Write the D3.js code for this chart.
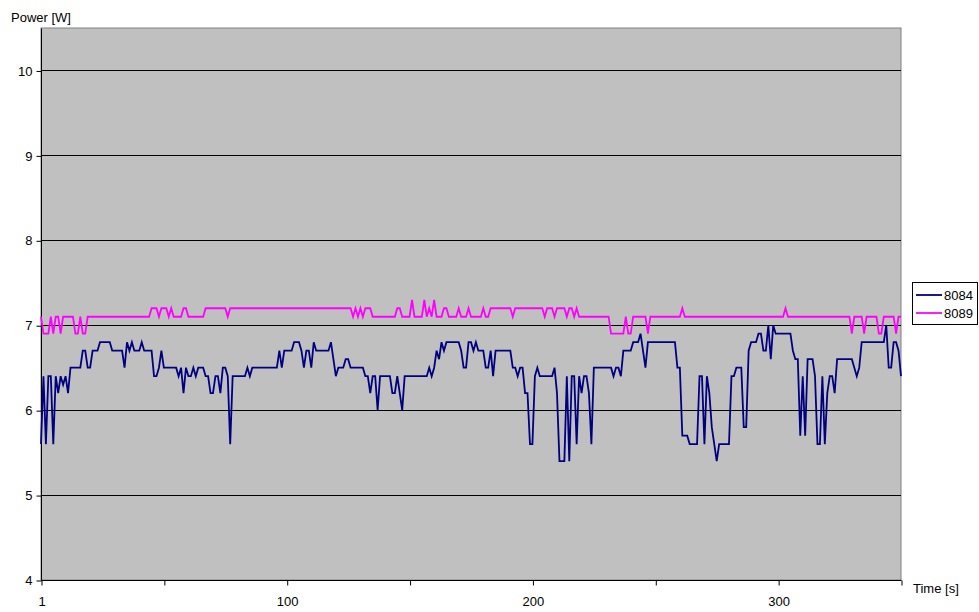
<!DOCTYPE html>
<html>
<head>
<meta charset="utf-8">
<script src="https://cdn.jsdelivr.net/npm/d3@7"></script>
<style>
  html, body { margin: 0; padding: 0; background: #ffffff; }
  svg { display: block; font-family: Arial, "Liberation Sans", sans-serif; }
</style>
</head>
<body>
<svg id="chart" width="979" height="612"></svg>
<script>
// ---- data ----
const seriesNames = ["8084", "8089"];
const yTicks = [4, 5, 6, 7, 8, 9, 10];
const xTickValues = [0, 50, 100, 150, 200, 250, 300, 350];
const xTickLabels = ["1", "", "100", "", "200", "", "300", ""];

const s8084 = [
  5.6, 6.4, 5.6, 6.4, 6.4, 5.6, 6.4, 6.2, 6.4, 6.3,
  6.4, 6.2, 6.5, 6.5, 6.5, 6.5, 6.5, 6.7, 6.7, 6.5,
  6.5, 6.7, 6.7, 6.7, 6.8, 6.8, 6.8, 6.8, 6.8, 6.7,
  6.7, 6.7, 6.7, 6.7, 6.5, 6.8, 6.7, 6.8, 6.7, 6.7,
  6.7, 6.8, 6.7, 6.7, 6.7, 6.7, 6.4, 6.4, 6.5, 6.7,
  6.5, 6.5, 6.5, 6.5, 6.5, 6.5, 6.4, 6.5, 6.2, 6.5,
  6.4, 6.4, 6.5, 6.4, 6.5, 6.5, 6.5, 6.4, 6.4, 6.2,
  6.2, 6.4, 6.4, 6.2, 6.5, 6.5, 6.4, 5.6, 6.4, 6.4,
  6.4, 6.4, 6.4, 6.4, 6.5, 6.4, 6.5, 6.5, 6.5, 6.5,
  6.5, 6.5, 6.5, 6.5, 6.5, 6.5, 6.5, 6.7, 6.5, 6.7,
  6.7, 6.7, 6.7, 6.8, 6.8, 6.8, 6.7, 6.5, 6.7, 6.7,
  6.5, 6.8, 6.7, 6.7, 6.7, 6.7, 6.7, 6.7, 6.8, 6.6,
  6.4, 6.5, 6.5, 6.5, 6.6, 6.6, 6.5, 6.5, 6.5, 6.5,
  6.5, 6.5, 6.4, 6.4, 6.2, 6.4, 6.4, 6.0, 6.4, 6.4,
  6.4, 6.4, 6.4, 6.2, 6.2, 6.4, 6.2, 6.0, 6.4, 6.4,
  6.4, 6.4, 6.4, 6.4, 6.4, 6.4, 6.4, 6.4, 6.5, 6.4,
  6.5, 6.7, 6.6, 6.8, 6.7, 6.8, 6.8, 6.8, 6.8, 6.8,
  6.8, 6.7, 6.5, 6.5, 6.8, 6.8, 6.7, 6.8, 6.7, 6.7,
  6.7, 6.5, 6.5, 6.7, 6.4, 6.7, 6.7, 6.7, 6.7, 6.7,
  6.7, 6.7, 6.5, 6.5, 6.4, 6.5, 6.5, 6.2, 6.2, 5.6,
  5.6, 6.4, 6.5, 6.4, 6.4, 6.4, 6.4, 6.4, 6.4, 6.5,
  6.2, 5.4, 5.4, 5.4, 6.4, 5.4, 6.4, 6.4, 5.6, 6.4,
  6.2, 6.4, 6.4, 6.2, 5.6, 6.5, 6.5, 6.5, 6.5, 6.5,
  6.5, 6.5, 6.5, 6.4, 6.5, 6.5, 6.4, 6.7, 6.7, 6.7,
  6.7, 6.8, 6.8, 6.8, 6.9, 6.7, 6.5, 6.8, 6.8, 6.8,
  6.8, 6.8, 6.8, 6.8, 6.8, 6.8, 6.8, 6.8, 6.8, 6.5,
  6.5, 5.7, 5.7, 5.7, 5.6, 5.6, 5.6, 5.6, 6.4, 6.4,
  5.6, 6.4, 6.2, 5.8, 5.6, 5.4, 5.6, 5.6, 5.6, 5.6,
  5.6, 6.4, 6.4, 6.5, 6.5, 6.5, 5.8, 5.8, 6.7, 6.8,
  6.8, 6.8, 6.9, 6.9, 6.7, 6.7, 7.0, 6.6, 7.0, 6.9,
  6.9, 6.9, 6.9, 6.9, 6.9, 6.9, 6.7, 6.6, 6.6, 5.7,
  6.4, 5.7, 6.6, 6.6, 6.6, 6.4, 5.6, 5.6, 6.4, 5.6,
  6.2, 6.4, 6.4, 6.2, 6.6, 6.6, 6.6, 6.6, 6.6, 6.6,
  6.6, 6.5, 6.4, 6.5, 6.8, 6.8, 6.8, 6.8, 6.8, 6.8,
  6.8, 6.8, 6.8, 6.8, 7.0, 6.5, 6.5, 6.8, 6.8, 6.7,
  6.4
];

const s8089 = [
  7.1, 6.9, 6.9, 6.9, 7.1, 6.9, 7.1, 7.1, 6.9, 7.1,
  7.1, 7.1, 7.1, 7.1, 6.9, 6.9, 7.1, 6.9, 6.9, 7.1,
  7.1, 7.1, 7.1, 7.1, 7.1, 7.1, 7.1, 7.1, 7.1, 7.1,
  7.1, 7.1, 7.1, 7.1, 7.1, 7.1, 7.1, 7.1, 7.1, 7.1,
  7.1, 7.1, 7.1, 7.1, 7.1, 7.2, 7.2, 7.2, 7.1, 7.2,
  7.2, 7.2, 7.1, 7.2, 7.1, 7.1, 7.1, 7.1, 7.2, 7.2,
  7.1, 7.1, 7.1, 7.1, 7.1, 7.1, 7.1, 7.2, 7.2, 7.2,
  7.2, 7.2, 7.2, 7.2, 7.2, 7.2, 7.1, 7.2, 7.2, 7.2,
  7.2, 7.2, 7.2, 7.2, 7.2, 7.2, 7.2, 7.2, 7.2, 7.2,
  7.2, 7.2, 7.2, 7.2, 7.2, 7.2, 7.2, 7.2, 7.2, 7.2,
  7.2, 7.2, 7.2, 7.2, 7.2, 7.2, 7.2, 7.2, 7.2, 7.2,
  7.2, 7.2, 7.2, 7.2, 7.2, 7.2, 7.2, 7.2, 7.2, 7.2,
  7.2, 7.2, 7.2, 7.2, 7.2, 7.2, 7.2, 7.1, 7.2, 7.1,
  7.2, 7.1, 7.2, 7.2, 7.2, 7.1, 7.1, 7.1, 7.1, 7.1,
  7.1, 7.1, 7.1, 7.1, 7.1, 7.2, 7.2, 7.1, 7.1, 7.1,
  7.1, 7.3, 7.1, 7.1, 7.1, 7.1, 7.3, 7.1, 7.2, 7.1,
  7.3, 7.1, 7.1, 7.1, 7.2, 7.2, 7.1, 7.1, 7.1, 7.1,
  7.2, 7.1, 7.1, 7.1, 7.2, 7.1, 7.1, 7.1, 7.1, 7.1,
  7.2, 7.1, 7.1, 7.2, 7.2, 7.2, 7.2, 7.2, 7.2, 7.2,
  7.2, 7.2, 7.1, 7.2, 7.2, 7.2, 7.2, 7.2, 7.2, 7.2,
  7.2, 7.2, 7.2, 7.2, 7.2, 7.1, 7.2, 7.2, 7.2, 7.1,
  7.2, 7.2, 7.2, 7.2, 7.1, 7.2, 7.2, 7.1, 7.2, 7.1,
  7.1, 7.1, 7.1, 7.1, 7.1, 7.1, 7.1, 7.1, 7.1, 7.1,
  7.1, 7.1, 6.9, 6.9, 6.9, 6.9, 6.9, 6.9, 7.1, 6.9,
  6.9, 7.1, 7.1, 7.1, 7.1, 7.1, 7.1, 6.9, 7.1, 7.1,
  7.1, 7.1, 7.1, 7.1, 7.1, 7.1, 7.1, 7.1, 7.1, 7.1,
  7.1, 7.2, 7.1, 7.1, 7.1, 7.1, 7.1, 7.1, 7.1, 7.1,
  7.1, 7.1, 7.1, 7.1, 7.1, 7.1, 7.1, 7.1, 7.1, 7.1,
  7.1, 7.1, 7.1, 7.1, 7.1, 7.1, 7.1, 7.1, 7.1, 7.1,
  7.1, 7.1, 7.1, 7.1, 7.1, 7.1, 7.1, 7.1, 7.1, 7.1,
  7.1, 7.1, 7.1, 7.2, 7.1, 7.1, 7.1, 7.1, 7.1, 7.1,
  7.1, 7.1, 7.1, 7.1, 7.1, 7.1, 7.1, 7.1, 7.1, 7.1,
  7.1, 7.1, 7.1, 7.1, 7.1, 7.1, 7.1, 7.1, 7.1, 7.1,
  6.9, 7.1, 7.1, 7.1, 7.1, 6.9, 7.1, 7.1, 7.1, 7.1,
  7.1, 6.9, 6.9, 7.1, 7.1, 7.1, 7.1, 7.1, 6.9, 7.1,
  7.1
];

const seriesValues = [s8084, s8089];
const seriesColors = ["#000080", "#FF00FF"];

// ---- layout ----
const FONT = "13px";
const svg = d3.select("#chart");
const plot = { left: 41, right: 901, top: 28, bottom: 580 };

const x = d3.scaleLinear().domain([0, 350]).range([plot.left, plot.right]);
const y = d3.scaleLinear().domain([4, 10.5]).range([plot.bottom, plot.top]);

// plot background
svg.append("rect")
  .attr("x", plot.left).attr("y", plot.top)
  .attr("width", plot.right - plot.left).attr("height", plot.bottom - plot.top)
  .attr("fill", "#C0C0C0")
  .attr("stroke", "#808080").attr("stroke-width", 1);

// gridlines
svg.append("g").selectAll("line")
  .data(yTicks.filter(d => d > 4))
  .join("line")
  .attr("x1", plot.left).attr("x2", plot.right)
  .attr("y1", d => Math.round(y(d)) + 0.5).attr("y2", d => Math.round(y(d)) + 0.5)
  .attr("stroke", "#000").attr("stroke-width", 1);

// y axis
const yAxis = d3.axisLeft(y).tickValues(yTicks).tickSize(5).tickPadding(4).tickFormat(d3.format("d"));
const gy = svg.append("g").attr("transform", `translate(${plot.left + 0.5},0.5)`).call(yAxis);
gy.select(".domain").attr("stroke", "#000").attr("d", `M0,${plot.top}V${plot.bottom}`);
gy.selectAll("text").attr("font-size", FONT).attr("fill", "#000")
  .attr("font-family", "Arial, 'Liberation Sans', sans-serif");
gy.selectAll(".tick line").attr("stroke", "#000");

// x axis
const xAxis = d3.axisBottom(x).tickValues(xTickValues).tickSize(5).tickPadding(11)
  .tickFormat((d, i) => xTickLabels[i]);
const gx = svg.append("g").attr("transform", `translate(0.5,${plot.bottom + 0.5})`).call(xAxis);
gx.select(".domain").attr("stroke", "#000").attr("d", `M${plot.left},0H${plot.right}`);
gx.selectAll("text").attr("font-size", FONT).attr("fill", "#000")
  .attr("font-family", "Arial, 'Liberation Sans', sans-serif");
gx.selectAll(".tick line").attr("stroke", "#000");

// axis titles
svg.append("text").attr("x", 11).attr("y", 22).text("Power [W]")
  .attr("font-size", FONT).attr("fill", "#000");
svg.append("text").attr("x", 913).attr("y", 593).text("Time [s]")
  .attr("font-size", FONT).attr("fill", "#000");

// lines
const line = d3.line().x((d, i) => x(i)).y(d => y(d));
seriesValues.forEach((vals, k) => {
  svg.append("path")
    .datum(vals)
    .attr("d", line)
    .attr("fill", "none")
    .attr("stroke", seriesColors[k])
    .attr("stroke-width", 1.8)
    .attr("stroke-linejoin", "miter");
});

// legend
const lg = svg.append("g");
lg.append("rect").attr("x", 912.5).attr("y", 282.5).attr("width", 65).attr("height", 42)
  .attr("fill", "#fff").attr("stroke", "#000").attr("stroke-width", 1);
seriesNames.forEach((name, k) => {
  const ly = 295 + k * 18;
  lg.append("line").attr("x1", 916).attr("x2", 942).attr("y1", ly).attr("y2", ly)
    .attr("stroke", seriesColors[k]).attr("stroke-width", 1.8);
  lg.append("text").attr("x", 944).attr("y", ly + 4.5).text(name)
    .attr("font-size", FONT).attr("fill", "#000");
});
</script>
</body>
</html>
